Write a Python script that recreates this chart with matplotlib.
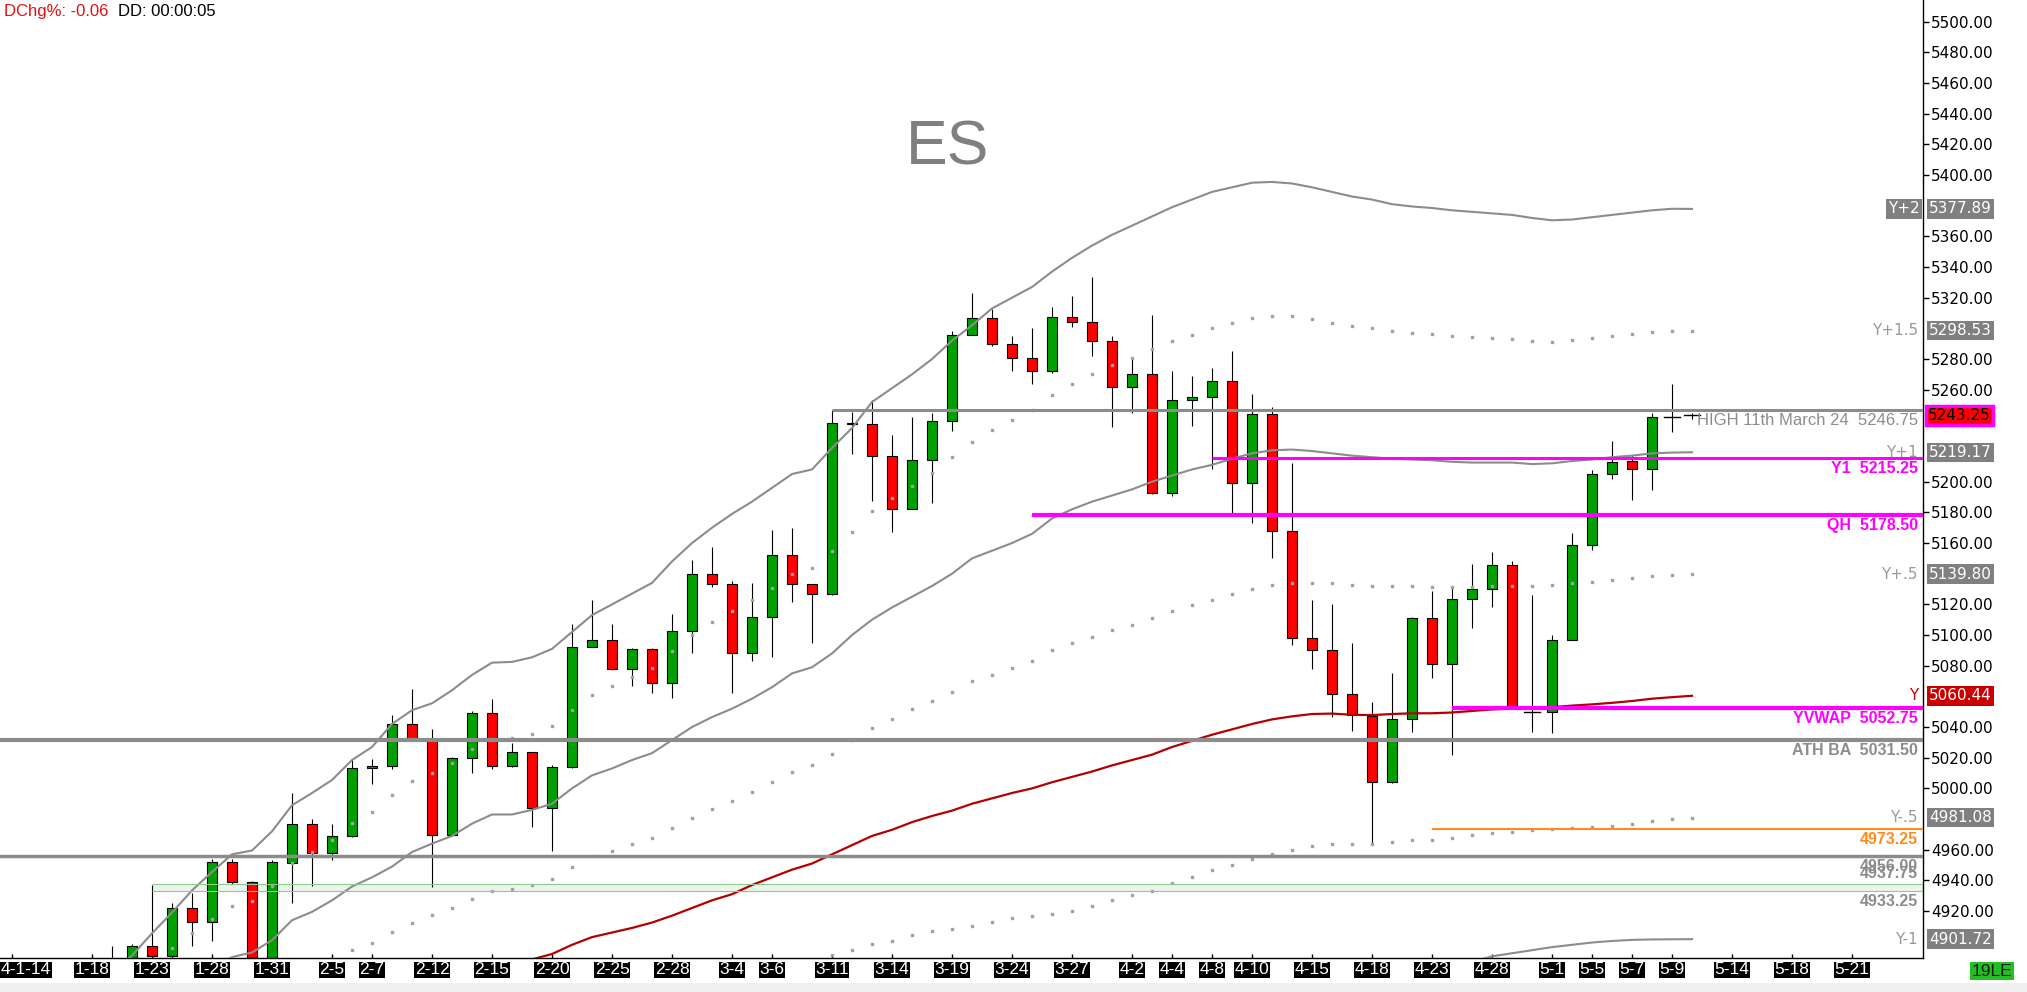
import numpy as np
import matplotlib as mpl
mpl.use('Agg')
import matplotlib.pyplot as plt
import matplotlib.transforms as mtransforms
from matplotlib.patches import Rectangle

# bar index 0 = 1-31 ; one bar per trading day
bar_idx = list(range(-8, 72))
opens = [4880, 4876, 4897.5, 4891, 4922, 4913, 4952, 4939, 4878, 4951.5, 4977, 4958, 4969, 5013, 5014.5, 5042,
         5032.5, 4969.5, 5020, 5049.5, 5014.5, 5023.5, 4987.5, 5014, 5092.5, 5097, 5078, 5091, 5068.5, 5102.5,
         5139.5, 5133, 5088.5, 5112, 5152, 5133, 5127, 5238.5, 5237.5, 5217, 5182.5, 5214, 5239.5, 5296, 5307,
         5289.5, 5280.5, 5272, 5307.5, 5304, 5291.5, 5262, 5270, 5192.5, 5253, 5255.5, 5265.5, 5199, 5244, 5168,
         5098, 5090.5, 5061.5, 5047.5, 5004, 5045, 5111, 5081, 5123.5, 5130, 5146, 5050.25, 5050, 5097, 5159,
         5205, 5213.5, 5208.5, 5242.5, 5243.25]
highs = [4897, 4898.5, 4937, 4925.5, 4932, 4954, 4954, 4939.5, 4953, 4997, 4980, 4977, 5019, 5019, 5048, 5065,
         5039, 5020.5, 5050.5, 5058, 5029.5, 5024, 5015, 5107, 5123, 5107, 5091.5, 5091.5, 5114, 5149,
         5157.5, 5135, 5134, 5168.5, 5170, 5133.5, 5246.75, 5245.5, 5253, 5230.5, 5242, 5244.5, 5298, 5323, 5312.5,
         5295, 5300, 5314, 5321, 5333.5, 5295, 5280.5, 5308.5, 5272, 5269, 5274, 5285.5, 5257, 5248.5, 5212.5,
         5123, 5120, 5094.5, 5056.5, 5075.5, 5112, 5128.5, 5132, 5146.5, 5154, 5148.5, 5126, 5100, 5166.5, 5207.5,
         5226.5, 5217.5, 5244.5, 5263.5, 5245]
lows = [4870, 4870, 4885, 4889, 4897, 4900.5, 4937.5, 4872, 4872, 4925, 4936.5, 4953, 4968.5, 5003, 5012.5, 5032,
        4936, 4969, 5010, 5012.5, 5014, 4975, 4959, 5013, 5092, 5077.5, 5066.5, 5062, 5059, 5088.5,
        5131.5, 5062.5, 5083, 5086, 5121.5, 5095, 5126, 5218, 5187.5, 5167.5, 5182, 5186, 5233, 5295.5, 5288.5,
        5272.5, 5263.5, 5271, 5301, 5282, 5235.5, 5244.5, 5192, 5191, 5236.5, 5208, 5179.5, 5173, 5150, 5093.5,
        5078, 5046.5, 5037.5, 4963, 5003.5, 5037, 5072, 5021.5, 5104.5, 5118.5, 5052.5, 5037, 5036, 5096.5, 5155.5,
        5202, 5188, 5194.5, 5232.5, 5241]
closes = [4886, 4897.5, 4891, 4922, 4913, 4952, 4939, 4878, 4952, 4977, 4958, 4969, 5013, 5014.5, 5042, 5032.5,
          4969.5, 5020, 5049.5, 5014.5, 5023.5, 4987.5, 5014, 5092.5, 5097, 5078, 5091, 5068.5, 5102.5, 5139.5,
          5133, 5088.5, 5112, 5152, 5133, 5127, 5238.5, 5237.5, 5217, 5182.5, 5214, 5239.5, 5296, 5307, 5289.5,
          5280.5, 5272, 5307.5, 5304, 5291.5, 5262, 5270, 5192.5, 5253, 5255.5, 5265.5, 5199, 5244, 5168, 5098,
          5090.5, 5061.5, 5048, 5004, 5045, 5111, 5081, 5123.5, 5130, 5146, 5053, 5050, 5097, 5159, 5205,
          5213, 5208.5, 5242.5, 5242.5, 5243.25]

# anchored vwap (Y) and its deviation bands, same bar index
y_plus2 = [4880, 4891, 4905.5, 4919, 4933.5, 4945.5, 4957, 4959.5, 4972, 4989, 4997, 5005.5, 5018.5, 5027, 5042,
           5051, 5055.5, 5064, 5074, 5082, 5082.5, 5085.5, 5091, 5102, 5113, 5120, 5127, 5134, 5148, 5160,
           5170, 5179, 5187, 5196, 5205, 5208, 5222, 5235, 5252, 5261, 5270, 5280, 5292, 5302, 5313,
           5320, 5327, 5337, 5346, 5354, 5361, 5367, 5373, 5379, 5384, 5389, 5392, 5395, 5395.5, 5394.5,
           5392, 5389, 5386, 5384, 5381, 5379.5, 5378.5, 5377, 5376, 5375, 5374, 5372, 5370.5, 5371, 5372.5,
           5374, 5375.5, 5377, 5378, 5377.9]
y_plus1 = [4860, 4864, 4868, 4873, 4878, 4884, 4890, 4893, 4901, 4914, 4919.5, 4927, 4936, 4942, 4949,
           4958.5, 4964, 4969, 4977, 4983, 4983, 4986, 4990, 5000, 5008.5, 5013, 5018.5, 5023, 5031.5, 5040,
           5046.5, 5052, 5058.5, 5066, 5075, 5079, 5088, 5100, 5110, 5118, 5125, 5132, 5140, 5150, 5155,
           5160, 5166, 5176, 5182, 5187, 5191, 5195, 5200, 5204, 5208, 5211, 5215, 5218.5, 5220.5, 5221,
           5220, 5218.5, 5217, 5216, 5215, 5214.5, 5214, 5213, 5212.5, 5212.5, 5212.5, 5211.5, 5212, 5213.5, 5214.5,
           5216, 5217, 5218.5, 5219, 5219.2]
y_mid = [4800, 4805, 4810, 4815, 4820, 4825, 4830, 4834, 4838, 4842, 4845, 4849, 4853, 4857, 4864,
         4866, 4871, 4875, 4879, 4883, 4886, 4888.5, 4892, 4898, 4903, 4906, 4909, 4912.5, 4917, 4922,
         4927, 4931, 4937, 4942, 4947, 4951, 4957, 4963, 4969, 4973, 4978, 4982, 4985.5, 4990, 4993.5,
         4997, 5000, 5004, 5007.5, 5011, 5015, 5018.5, 5022, 5027, 5031, 5035, 5038.5, 5042, 5045, 5047,
         5048.5, 5048.8, 5048, 5047.8, 5048.5, 5049, 5049, 5049.5, 5050.5, 5051.5, 5052, 5052.5, 5053, 5054, 5054.8,
         5055.8, 5057, 5058.5, 5059.5, 5060.4]
minus1_idx = list(range(60, 72))
y_minus1 = [4887, 4890.5, 4892.5, 4894.5, 4896.5, 4898, 4899.5, 4900.5, 4901.2, 4901.5, 4901.6, 4901.7]

band_names = ['Y+2', 'Y+1.5', 'Y+1', 'Y+.5', 'Y', 'Y-.5', 'Y-1']
band_last = [5377.89, 5298.53, 5219.17, 5139.80, 5060.44, 4981.08, 4901.72]

# horizontal reference levels
level_vals = [5246.75, 5215.25, 5178.50, 5052.75, 5031.50, 4973.25, 4956.00, 4937.75, 4933.25]
level_text = ['HIGH 11th March 24  5246.75', 'Y1  5215.25', 'QH  5178.50', 'YVWAP  5052.75',
              'ATH BA  5031.50', '4973.25', '4956.00', '4937.75', '4933.25']
level_start = [28, 47, 38, 59, -14, 58, -14, -6, -6]

date_labels = ['4-1-14', '1-18', '1-23', '1-28', '1-31', '2-5', '2-7', '2-12', '2-15', '2-20', '2-25', '2-28',
               '3-4', '3-6', '3-11', '3-14', '3-19', '3-24', '3-27', '4-2', '4-4', '4-8', '4-10', '4-15',
               '4-18', '4-23', '4-28', '5-1', '5-5', '5-7', '5-9', '5-14', '5-18', '5-21']
date_idx = [-13, -9, -6, -3, 0, 3, 5, 8, 11, 14, 17, 20, 23, 25, 28, 31, 34, 37, 40, 43, 45, 47, 49, 52,
            55, 58, 61, 64, 66, 68, 70, 73, 76, 79]

last_price = 5243.25

GRAY = '#8c8c8c'
MAG = '#ff00ff'
ORANGE = '#ff8c1a'
GREEN = '#00a000'
RED = '#ff0000'
ARIAL = 'Liberation Sans'

fig = plt.figure(figsize=(20.27, 9.92), dpi=100, facecolor='white')
ax = fig.add_axes([0, 34 / 992, 1923 / 2027, 958 / 992])
x0, x1 = -13.6, 82.55
ax.set_xlim(x0, x1)
ax.set_ylim(4889.4, 5514.15)
for s in ['top', 'left']:
    ax.spines[s].set_visible(False)
for s in ['right', 'bottom']:
    ax.spines[s].set_color('black')
    ax.spines[s].set_linewidth(1)

# candles
o = np.array(opens); h = np.array(highs); l = np.array(lows); c = np.array(closes)
xi = np.array(bar_idx)
ax.vlines(xi, l, h, color='black', lw=0.8, zorder=2)
body = np.abs(c - o) >= 0.6
cols = np.where(c > o, GREEN, RED)
ax.bar(xi[body], np.abs(c - o)[body], bottom=np.minimum(o, c)[body], width=0.52,
       color=cols[body], edgecolor='black', linewidth=0.8, zorder=2)
for k in np.where(~body)[0]:
    ax.plot([xi[k] - 0.4, xi[k] + 0.4], [c[k], c[k]], color='black', lw=1.0, zorder=2)

# vwap bands
bx = np.array(bar_idx)
p2 = np.array(y_plus2); p1 = np.array(y_plus1); ym = np.array(y_mid)
ax.plot(bx, p2, color=GRAY, lw=1.5, zorder=3)
ax.plot(bx, p1, color=GRAY, lw=1.5, zorder=3)
ax.plot(bx, ym, color='#b40000', lw=1.6, zorder=3)
ax.plot(minus1_idx, y_minus1, color=GRAY, lw=1.5, zorder=3)
for band in [(p2 + p1) / 2, (p1 + ym) / 2, ym - (p1 - ym) / 2]:
    ax.plot(bx, band, linestyle='none', marker='s', ms=1.5, color='#a0a0a0', zorder=3)

# levels
lv_col = [GRAY, MAG, MAG, MAG, GRAY, ORANGE, GRAY, '#8fc98f', '#8fc98f']
lv_lw = [2.2, 2.2, 3.0, 3.0, 3.0, 1.5, 2.5, 0.8, 0.8]
txt_col = [GRAY, MAG, MAG, MAG, GRAY, ORANGE, GRAY, GRAY, GRAY]
ax.fill_between([level_start[7], x1], level_vals[8], level_vals[7], color='#eaf6ea', zorder=1, lw=0)
trans = mtransforms.blended_transform_factory(ax.transAxes, ax.transData)
for k, v in enumerate(level_vals):
    ax.plot([level_start[k], x1], [v, v], color=lv_col[k], lw=lv_lw[k], zorder=4, solid_capstyle='butt')
    dy = 10 if level_text[k] == '4937.75' else -10.5
    if k == 0:
        kw = dict(fontsize=12, weight='normal')
    else:
        kw = dict(fontsize=11.5, weight='bold')
    ax.annotate(level_text[k], xy=(1, v), xycoords=trans, xytext=(-5, dy), textcoords='offset pixels',
                ha='right', va='center', color=txt_col[k], zorder=6, family=ARIAL, **kw)

# right axis ticks
ticks = [t for t in range(4900, 5501, 20) if t not in (4900, 4980, 5060, 5140, 5220, 5240, 5300, 5380)]
ax.yaxis.tick_right()
ax.set_yticks(ticks)
ax.set_yticklabels(['%.2f' % t for t in ticks])
ax.tick_params(axis='y', length=4, width=1, pad=2, labelsize=11, colors='black')

# band value boxes on the axis + names inside the plot
for name, val in zip(band_names, band_last):
    fc = '#cc0000' if name == 'Y' else '#808080'
    ax.annotate('%.2f' % val, xy=(1, val), xycoords=trans, xytext=(6, 0), textcoords='offset pixels',
                ha='left', va='center', fontsize=11, color='white', annotation_clip=False,
                bbox=dict(boxstyle='square,pad=0.15', fc=fc, ec='none'))
    if name == 'Y+2':
        ax.annotate(name, xy=(1, val), xycoords=trans, xytext=(-3, 0), textcoords='offset pixels',
                    ha='right', va='center', fontsize=11, color='white',
                    bbox=dict(boxstyle='square,pad=0.15', fc='#808080', ec='none'))
    else:
        ax.annotate(name, xy=(1, val), xycoords=trans, xytext=(-5, 0), textcoords='offset pixels',
                    ha='right', va='center', fontsize=11, color='#cc0000' if name == 'Y' else '#999999')

ax.annotate('%.2f' % last_price, xy=(1, last_price), xycoords=trans, xytext=(5, 0), textcoords='offset pixels',
            ha='left', va='center', fontsize=11, color='black', annotation_clip=False,
            bbox=dict(boxstyle='square,pad=0.15', fc=RED, ec=MAG, lw=2.5))

# date labels
ax.set_xticks(date_idx)
ax.set_xticklabels([])
ax.tick_params(axis='x', direction='in', length=3, width=1, colors='black')
xtrans = mtransforms.blended_transform_factory(ax.transData, ax.transAxes)
for lab, i in zip(date_labels, date_idx):
    xp, ha = (x0 + 0.05, 'left') if i < x0 + 1 else (i, 'center')
    ax.text(xp, -0.0045, lab, transform=xtrans, ha=ha, va='top', fontsize=12.5, family=ARIAL,
            color='white', clip_on=False, bbox=dict(boxstyle='square,pad=0.03', fc='black', ec='none'))

ax.text(0.4925, 0.8455, 'ES', transform=ax.transAxes, fontsize=45, color='#808080', ha='center',
        va='center', family=ARIAL)

fig.text(4 / 2027, 1 - 16 / 992, 'DChg%: -0.06', color='#e01010', fontsize=12, va='baseline', family=ARIAL)
fig.text(118 / 2027, 1 - 16 / 992, 'DD: 00:00:05', color='black', fontsize=12, va='baseline', family=ARIAL)
fig.text(1972 / 2027, 1 - 971 / 992, '19LE', color='#1a1a1a', fontsize=12.5, va='center', ha='left',
         family=ARIAL, bbox=dict(boxstyle='square,pad=0.1', fc='#22c022', ec='none'))
fig.add_artist(Rectangle((0, 0), 1, 9 / 992, transform=fig.transFigure, fc='#f0f0f0', ec='none', zorder=0))

fig.savefig('out.png', dpi=100, facecolor='white')
